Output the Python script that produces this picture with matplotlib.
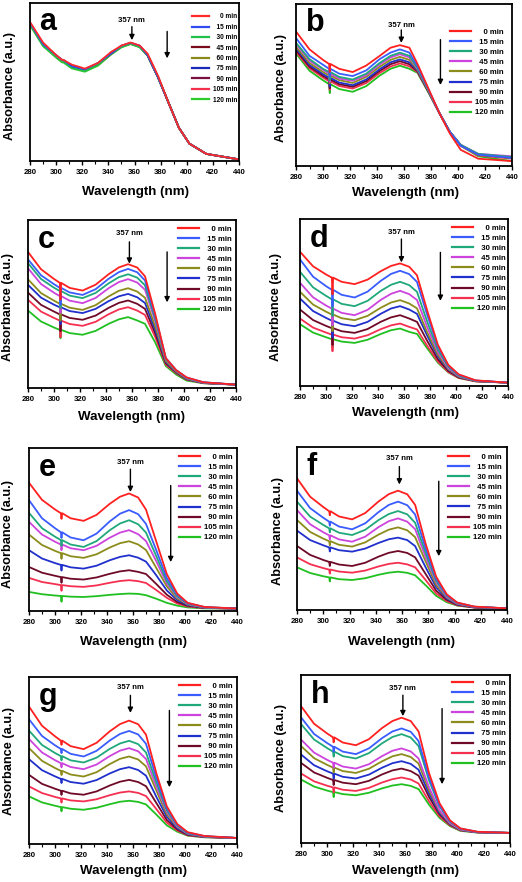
import matplotlib
matplotlib.use('Agg')
import matplotlib.pyplot as plt
from matplotlib.ticker import MultipleLocator

plt.rcParams['font.family'] = ['Liberation Sans', 'DejaVu Sans']
plt.rcParams['font.weight'] = 'bold'

# ---------------- data ----------------
wavelength = [280, 290, 300, 304.5, 305, 305.5, 312, 322, 332, 342, 350, 357,
              364, 370, 378, 386, 394, 402, 415, 440]
times = ['0 min', '15 min', '30 min', '45 min', '60 min', '75 min', '90 min', '105 min', '120 min']
panel_letters = ['a', 'b', 'c', 'd', 'e', 'f', 'g', 'h']
peak_label = '357 nm'

colors_a = ['#ff2a2a', '#2f4cf0', '#22c24a', '#7a0c1c', '#8a8a1c', '#1a2ab8', '#7a1040', '#f2304a', '#2ccc2c']
colors = ['#ff2020', '#3a5cff', '#1fa87a', '#cc44dd', '#8c8c1c', '#2030cc', '#6e0a28', '#f52f50', '#20c020']

# absorbance (a.u., fraction of axis height), one row per time
panel_a = [
    [.88, .75, .67, .64, .64, .64, .61, .585, .62, .69, .73, .75, .73, .68, .54, .37, .21, .11, .045, .01],
    [.875, .74, .67, .64, .64, .64, .60, .58, .62, .68, .73, .748, .73, .67, .53, .37, .21, .11, .045, .01],
    [.865, .73, .66, .63, .63, .63, .59, .57, .61, .68, .72, .742, .72, .67, .53, .37, .21, .11, .045, .01],
    [.87, .74, .665, .636, .636, .636, .598, .578, .615, .68, .725, .745, .725, .67, .53, .37, .21, .11, .045, .01],
    [.865, .733, .66, .63, .63, .63, .593, .572, .61, .677, .722, .742, .722, .668, .53, .37, .21, .11, .045, .01],
    [.87, .737, .664, .634, .634, .634, .596, .575, .612, .68, .725, .745, .725, .67, .53, .37, .21, .11, .045, .01],
    [.87, .737, .664, .634, .634, .634, .596, .575, .612, .68, .725, .745, .725, .67, .53, .37, .21, .11, .045, .01],
    [.875, .74, .67, .64, .64, .64, .60, .58, .62, .68, .73, .748, .73, .67, .53, .37, .21, .11, .045, .01],
    [.86, .727, .654, .624, .624, .624, .586, .565, .603, .673, .72, .74, .72, .667, .53, .37, .21, .11, .045, .01],
]
panel_b = [
    [.83, .72, .655, .63, .58, .63, .60, .58, .62, .68, .73, .746, .73, .63, .48, .33, .20, .10, .045, .03],
    [.79, .68, .625, .60, .55, .60, .57, .555, .59, .66, .70, .72, .70, .615, .475, .33, .21, .125, .07, .05],
    [.76, .66, .60, .58, .53, .58, .55, .534, .57, .636, .68, .70, .68, .605, .47, .33, .21, .13, .075, .055],
    [.753, .65, .594, .57, .52, .57, .54, .526, .56, .627, .67, .69, .67, .60, .47, .33, .21, .13, .075, .06],
    [.736, .636, .58, .558, .51, .558, .53, .513, .55, .613, .655, .674, .655, .595, .465, .33, .21, .13, .07, .05],
    [.726, .624, .567, .544, .49, .544, .515, .499, .534, .598, .64, .658, .64, .59, .465, .33, .21, .13, .07, .05],
    [.715, .613, .557, .534, .48, .534, .505, .489, .524, .587, .628, .647, .628, .585, .46, .33, .21, .13, .07, .055],
    [.705, .603, .546, .523, .47, .523, .494, .478, .512, .574, .614, .633, .615, .58, .46, .33, .21, .125, .065, .045],
    [.695, .588, .529, .505, .45, .505, .475, .458, .493, .558, .60, .619, .60, .575, .455, .33, .21, .125, .06, .03],
]
panel_c = [
    [.81, .707, .649, .626, .526, .626, .596, .58, .615, .677, .718, .737, .717, .665, .436, .178, .106, .063, .034, .02],
    [.766, .671, .618, .596, .496, .596, .569, .554, .588, .65, .69, .709, .689, .64, .423, .178, .106, .062, .034, .02],
    [.743, .649, .597, .577, .477, .577, .55, .535, .566, .623, .66, .677, .657, .611, .408, .174, .105, .06, .033, .02],
    [.713, .619, .567, .547, .447, .547, .52, .505, .536, .594, .631, .648, .628, .585, .394, .171, .103, .058, .032, .02],
    [.647, .565, .52, .501, .401, .501, .478, .465, .493, .545, .579, .594, .574, .537, .364, .161, .098, .056, .031, .02],
    [.614, .538, .496, .48, .38, .48, .458, .446, .471, .517, .546, .56, .54, .506, .344, .155, .095, .054, .03, .02],
    [.568, .495, .455, .438, .338, .438, .417, .406, .431, .477, .507, .521, .501, .471, .323, .148, .092, .052, .03, .02],
    [.525, .455, .417, .401, .301, .401, .381, .37, .394, .439, .468, .481, .461, .435, .301, .14, .088, .05, .029, .02],
    [.461, .396, .36, .346, .296, .346, .327, .317, .34, .382, .409, .422, .402, .382, .269, .131, .08, .044, .028, .02],
]
panel_d = [
    [.804, .717, .668, .649, .549, .649, .624, .61, .637, .687, .719, .734, .714, .663, .448, .248, .127, .07, .034, .02],
    [.758, .655, .598, .576, .476, .576, .546, .53, .565, .629, .671, .69, .67, .623, .422, .238, .124, .067, .033, .02],
    [.684, .591, .54, .519, .419, .519, .492, .478, .51, .569, .606, .624, .604, .564, .382, .219, .117, .063, .032, .02],
    [.618, .531, .482, .463, .363, .463, .438, .424, .456, .515, .552, .57, .55, .515, .35, .204, .108, .06, .031, .02],
    [.564, .488, .445, .428, .328, .428, .406, .394, .42, .468, .50, .514, .494, .465, .319, .188, .102, .057, .03, .02],
    [.524, .449, .408, .391, .291, .391, .37, .358, .384, .432, .464, .478, .458, .432, .299, .178, .098, .055, .03, .02],
    [.458, .395, .36, .346, .246, .346, .328, .318, .341, .384, .411, .424, .404, .384, .268, .161, .091, .052, .029, .02],
    [.404, .35, .32, .308, .208, .308, .292, .284, .304, .34, .363, .374, .354, .339, .239, .147, .084, .049, .028, .02],
    [.37, .32, .292, .28, .23, .28, .266, .258, .277, .311, .334, .344, .324, .312, .224, .14, .082, .048, .028, .02],
]
panel_e = [
    [.787, .682, .623, .60, .565, .60, .569, .553, .59, .657, .701, .721, .696, .622, .424, .227, .107, .05, .025, .015],
    [.68, .569, .508, .483, .448, .483, .451, .434, .475, .549, .597, .619, .594, .534, .371, .202, .10, .048, .024, .015],
    [.602, .508, .456, .435, .40, .435, .408, .393, .429, .495, .537, .557, .532, .481, .335, .183, .091, .045, .023, .015],
    [.547, .469, .425, .408, .373, .408, .385, .373, .40, .449, .481, .496, .471, .429, .304, .169, .085, .043, .022, .015],
    [.469, .405, .369, .355, .32, .355, .336, .326, .348, .389, .416, .428, .408, .374, .263, .151, .077, .04, .021, .015],
    [.373, .322, .294, .283, .248, .283, .268, .26, .278, .311, .332, .342, .327, .303, .218, .126, .067, .036, .02, .015],
    [.27, .235, .216, .208, .173, .208, .198, .193, .206, .228, .243, .25, .24, .227, .165, .10, .055, .032, .019, .015],
    [.203, .178, .165, .159, .124, .159, .152, .148, .157, .173, .184, .189, .183, .172, .128, .081, .046, .028, .018, .015],
    [.117, .103, .095, .092, .057, .092, .088, .086, .091, .099, .104, .107, .105, .097, .075, .05, .033, .022, .016, .015],
]
panel_f = [
    [.808, .695, .632, .606, .581, .606, .574, .556, .595, .665, .711, .732, .71, .645, .407, .205, .097, .046, .021, .01],
    [.732, .625, .566, .542, .517, .542, .512, .495, .532, .60, .645, .665, .643, .586, .377, .193, .092, .045, .02, .01],
    [.665, .573, .522, .501, .476, .501, .474, .46, .492, .551, .589, .607, .587, .535, .35, .18, .088, .043, .02, .01],
    [.613, .526, .477, .458, .433, .458, .433, .419, .45, .508, .545, .562, .542, .496, .325, .17, .082, .04, .019, .01],
    [.552, .479, .438, .422, .397, .422, .40, .389, .415, .462, .493, .507, .489, .447, .298, .154, .077, .038, .018, .01],
    [.487, .429, .397, .384, .359, .384, .367, .358, .377, .411, .434, .444, .429, .392, .262, .14, .071, .035, .017, .01],
    [.393, .338, .307, .295, .27, .295, .279, .27, .29, .327, .351, .362, .35, .323, .221, .119, .063, .032, .016, .01],
    [.323, .281, .257, .248, .223, .248, .236, .229, .242, .267, .283, .29, .28, .262, .184, .102, .055, .029, .015, .01],
    [.262, .227, .207, .20, .175, .20, .189, .184, .195, .216, .229, .235, .228, .213, .152, .087, .048, .027, .015, .01],
]
panel_g = [
    [.823, .708, .645, .619, .594, .619, .586, .568, .606, .674, .718, .739, .717, .655, .423, .226, .12, .071, .048, .036],
    [.747, .647, .591, .569, .544, .569, .54, .524, .558, .619, .659, .677, .656, .60, .395, .215, .116, .068, .047, .036],
    [.679, .593, .545, .526, .501, .526, .501, .488, .517, .569, .602, .618, .598, .548, .368, .202, .112, .065, .046, .036],
    [.629, .548, .502, .484, .459, .484, .461, .448, .476, .526, .559, .574, .555, .509, .343, .192, .106, .063, .045, .036],
    [.574, .498, .455, .438, .413, .438, .416, .404, .43, .478, .51, .524, .506, .465, .319, .178, .102, .061, .044, .036],
    [.508, .442, .405, .39, .365, .39, .371, .361, .383, .422, .448, .46, .443, .409, .282, .163, .095, .058, .043, .036],
    [.414, .36, .331, .319, .294, .319, .303, .295, .315, .35, .373, .384, .371, .346, .245, .144, .088, .055, .042, .036],
    [.345, .305, .282, .273, .248, .273, .261, .255, .268, .292, .308, .315, .306, .287, .209, .128, .081, .052, .041, .036],
    [.285, .249, .229, .221, .196, .221, .211, .205, .217, .238, .253, .259, .252, .237, .176, .112, .074, .05, .04, .036],
]
panel_h = [
    [.815, .71, .652, .629, .599, .629, .598, .582, .618, .684, .726, .746, .726, .664, .417, .238, .135, .087, .067, .06],
    [.748, .649, .595, .573, .543, .573, .544, .529, .563, .624, .664, .682, .662, .607, .39, .225, .132, .086, .066, .06],
    [.708, .616, .565, .544, .514, .544, .517, .503, .535, .593, .631, .648, .628, .577, .372, .219, .128, .084, .066, .06],
    [.616, .538, .495, .478, .448, .478, .455, .443, .469, .517, .549, .563, .545, .503, .332, .196, .12, .08, .065, .06],
    [.577, .505, .465, .449, .419, .449, .428, .417, .442, .486, .516, .529, .512, .473, .313, .189, .116, .079, .065, .06],
    [.527, .463, .427, .413, .383, .413, .394, .384, .407, .448, .475, .487, .471, .436, .295, .18, .113, .078, .064, .06],
    [.477, .42, .388, .375, .345, .375, .359, .35, .37, .408, .432, .443, .428, .401, .274, .171, .11, .077, .064, .06],
    [.414, .367, .341, .331, .301, .331, .317, .31, .328, .36, .38, .39, .378, .354, .248, .159, .105, .075, .063, .06],
    [.378, .336, .312, .303, .273, .303, .291, .284, .299, .325, .342, .35, .34, .321, .228, .15, .101, .072, .062, .06],
]
panels = [panel_a, panel_b, panel_c, panel_d, panel_e, panel_f, panel_g, panel_h]

# ---------------- layout (pixel boxes: left, top, right, bottom) ----------------
W, H = 522, 882
boxes = [(30, 3, 239, 161), (296, 4, 512, 166),
         (28, 220, 236, 388), (300, 219, 508, 386),
         (29, 448, 237, 611), (297, 447, 507, 610),
         (29, 677, 237, 844), (301, 675, 510, 843)]
# legend offsets in px: (gap from right edge to label end, gap from top to first-row centre)
legend_off = [(2, 14), (8, 29), (4, 10), (2, 10), (4, 10), (5, 11), (4, 10), (4, 9)]
ylabel_pos = [(10, 86), (281, 88), (8, 307), (276, 307), (8, 534), (278, 531), (9, 761), (281, 758)]
xlabel_pos = [(135, 192), (405, 193), (132, 417), (405, 413), (133, 642), (401, 642), (133, 871), (406, 871)]
long_arrow = [(385, .82, .65), (387, .78, .50), (387, .81, .51), (388, .80, .51),
              (389, .77, .30), (388, .79, .33), (388, .80, .34), (388, .80, .35)]
peak_ann = [(.89, .85, .765), (.87, .84, .76), (.92, .87, .74), (.92, .88, .74),
            (.91, .87, .73), (.93, .88, .77), (.94, .89, .785), (.92, .88, .755)]

fig = plt.figure(figsize=(W / 100, H / 100), dpi=100)
fig.patch.set_facecolor('white')

pad_labels = ['    0 min', '  15 min', '  30 min', '  45 min', '  60 min', '  75 min', '  90 min', '105 min', '120 min']

for i, (data, box) in enumerate(zip(panels, boxes)):
    l, t, r, b = box
    w_px, h_px = r - l, b - t
    ax = fig.add_axes([l / W, 1 - b / H, w_px / W, h_px / H])
    cols = colors_a if i == 0 else colors
    handles = [None] * len(times)
    for k in reversed(range(len(times))):
        ln, = ax.plot(wavelength, data[k], color=cols[k], lw=1.3, label=pad_labels[k])
        handles[k] = ln
    ax.set_xlim(280, 440)
    ax.set_ylim(0, 1)
    ax.xaxis.set_major_locator(MultipleLocator(20))
    ax.xaxis.set_minor_locator(MultipleLocator(10))
    ax.tick_params(axis='x', which='major', direction='out', length=3, width=1,
                   labelsize=5.6, pad=2.5)
    ax.tick_params(axis='x', which='minor', direction='out', length=2, width=0.8)
    ax.tick_params(axis='y', left=False, labelleft=False)
    for lab in ax.get_xticklabels():
        lab.set_fontweight('bold')
    for sp in ax.spines.values():
        sp.set_linewidth(1.3)

    fs_leg = 4.7 if i == 0 else 5.6
    fs_px = fs_leg * 100 / 72
    dx, dy = legend_off[i]
    anchor_y = 1 - (dy - 0.55 * fs_px) / h_px
    anchor_x = 1 - dx / w_px
    leg = ax.legend(handles=handles, loc='upper right', bbox_to_anchor=(anchor_x, anchor_y),
                    frameon=False, fontsize=fs_leg, handlelength=2.7, handletextpad=0.5,
                    labelspacing=0.52 if i == 0 else 0.33, borderaxespad=0, borderpad=0)
    for txt in leg.get_texts():
        txt.set_fontweight('bold')
    for lh in leg.get_lines():
        lh.set_linewidth(1.6)

    ax.text(0.045, 0.88, panel_letters[i], transform=ax.transAxes, fontsize=22,
            fontweight='bold', ha='left', va='center')

    ty, ay1, ay2 = peak_ann[i]
    ax.text(358, ty, peak_label, fontsize=5.6, fontweight='bold', ha='center', va='center')
    ax.annotate('', xy=(358, ay2), xytext=(358, ay1),
                arrowprops=dict(arrowstyle='-|>', color='black', lw=1.0,
                                mutation_scale=7.5, shrinkA=0, shrinkB=0))
    ax_x, y1, y2 = long_arrow[i]
    ax.annotate('', xy=(ax_x, y2), xytext=(ax_x, y1),
                arrowprops=dict(arrowstyle='-|>', color='black', lw=1.0,
                                mutation_scale=7.5, shrinkA=0, shrinkB=0))

    yx, yy = ylabel_pos[i]
    fig.text(yx / W, 1 - yy / H, 'Absorbance (a.u.)', rotation=90, fontsize=9.2,
             fontweight='bold', ha='center', va='center')
    xx, xy = xlabel_pos[i]
    fig.text(xx / W, 1 - xy / H, 'Wavelength (nm)', fontsize=9.6,
             fontweight='bold', ha='center', va='center')

fig.savefig('out.png', dpi=100, facecolor='white')
